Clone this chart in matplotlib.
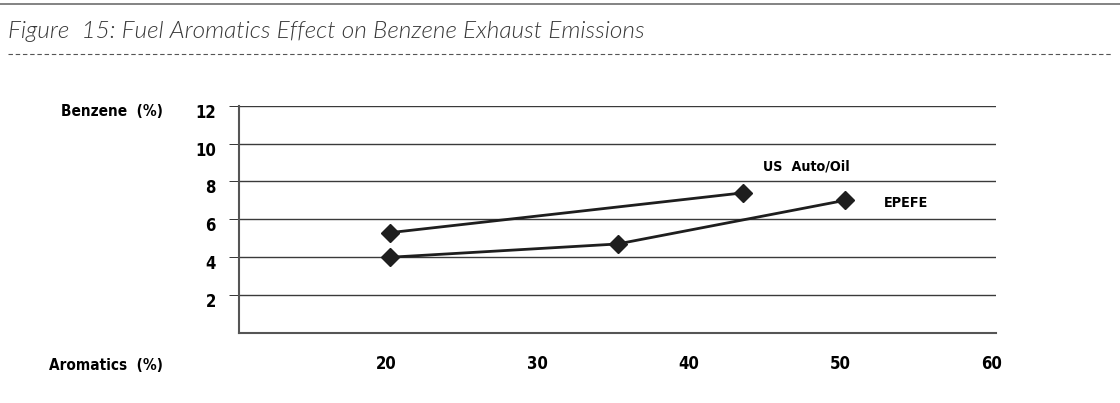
import matplotlib
matplotlib.use("Agg")
import matplotlib.pyplot as plt
from matplotlib.lines import Line2D
from matplotlib.transforms import ScaledTranslation

# data
aromatics_auto = [20, 43.3]
benzene_auto = [5.3, 7.4]
aromatics_epefe = [20, 35, 50]
benzene_epefe = [4.0, 4.7, 7.0]
x_ticks = [20, 30, 40, 50, 60]
y_ticks = [2, 4, 6, 8, 10, 12]

LABEL_FONT = dict(fontfamily="DejaVu Sans", fontstretch="condensed", fontweight="bold")
TITLE_FONT = ["Lato", "Open Sans", "DejaVu Sans"]
W, H = 1120, 403

fig = plt.figure(figsize=(W / 100, H / 100), dpi=100)
ax = fig.add_axes([239 / W, 1 - 333 / H, (996 - 239) / W, (333 - 105.7) / H])

ax.plot(aromatics_auto, benzene_auto, color="#1e1e1e", lw=2, marker="D",
        markersize=9, clip_on=False)
ax.plot(aromatics_epefe, benzene_epefe, color="#1e1e1e", lw=2, marker="D",
        markersize=9, clip_on=False)

ax.set_xlim(10, 60)
ax.set_ylim(0, 12)
ax.set_xticks(x_ticks)
ax.set_yticks(y_ticks)
ax.grid(axis="y", color="#3a3a3a", lw=1)
ax.set_axisbelow(True)
for s in ["top", "right"]:
    ax.spines[s].set_visible(False)
for s in ["left", "bottom"]:
    ax.spines[s].set_color("#555555")
    ax.spines[s].set_linewidth(1.5)

ax.tick_params(axis="y", length=7.2, width=0.72, color="#3a3a3a", pad=9.4)
ax.tick_params(axis="x", length=0, pad=16)
for lab in ax.get_yticklabels():
    lab.update(LABEL_FONT)
    lab.set_fontsize(12)
    lab.set_transform(lab.get_transform() + ScaledTranslation(0, -5 / 100, fig.dpi_scale_trans))
for lab in ax.get_xticklabels():
    lab.update(LABEL_FONT)
    lab.set_fontsize(12)
    lab.set_transform(lab.get_transform() + ScaledTranslation(-4 / 100, 0, fig.dpi_scale_trans))

ax.text(47.5, 8.8, "US  Auto/Oil", fontsize=10.3, ha="center", va="center", **LABEL_FONT)
ax.text(52.6, 6.87, "EPEFE", fontsize=10.3, ha="left", va="center", **LABEL_FONT)

fig.text(163 / W, 1 - 111 / H, "Benzene  (%)", fontsize=11, ha="right",
         va="center", **LABEL_FONT)
fig.text(163 / W, 1 - 365 / H, "Aromatics  (%)", fontsize=11, ha="right",
         va="center", **LABEL_FONT)

# header rules and title
fig.add_artist(Line2D([0, 1], [1 - 4 / H, 1 - 4 / H], color="#6e6e6e", lw=1.2,
                      transform=fig.transFigure))
fig.add_artist(Line2D([8 / W, 1112 / W], [1 - 54 / H, 1 - 54 / H], color="#555555",
                      lw=0.8, ls=(0, (4, 2.5)), transform=fig.transFigure))
fig.text(8 / W, 1 - 31 / H, "Figure  15: Fuel Aromatics Effect on Benzene Exhaust Emissions",
         fontfamily=TITLE_FONT, fontstyle="italic", fontweight=300,
         fontsize=17.6, color="#383838", ha="left", va="center")

fig.savefig("out.png", dpi=100)
